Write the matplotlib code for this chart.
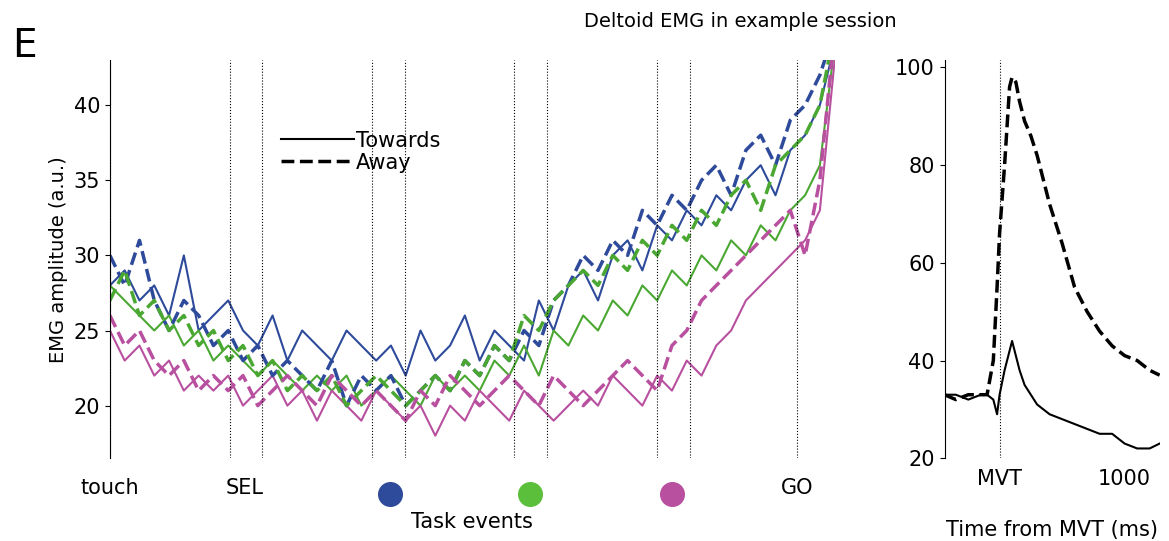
import matplotlib.pyplot as plt
import matplotlib.lines as mlines
import numpy as np

# left panel: task-event timeline (arbitrary units), 50 samples per trace
t_events = np.linspace(0, 725, 50)
blue_towards = [28,29,27,28,26,30,25,26,27,25,24,26,23,25,24,23,25,24,23,24,22,25,23,24,26,23,25,24,23,27,25,28,29,27,30,31,29,32,31,33,32,34,33,35,36,34,37,38,40,44]
blue_away = [30,28,31,27,25,27,26,24,25,23,24,22,23,22,21,23,20,22,21,22,20,21,22,21,23,22,24,23,25,24,27,28,30,29,31,30,33,32,34,33,35,36,34,37,38,36,39,40,42,45]
green_towards = [28,27,26,25,26,24,25,23,24,23,22,23,22,21,22,21,22,20,21,22,21,20,22,21,22,21,23,22,24,22,25,24,26,25,27,26,28,27,29,28,30,29,31,30,32,31,33,34,36,44]
green_away = [27,29,26,27,25,26,24,25,23,24,22,23,21,22,21,22,20,21,22,21,20,21,22,21,23,22,24,23,26,25,27,28,29,28,30,29,31,30,32,31,33,32,34,35,33,36,37,38,40,45]
mag_towards = [25,23,24,22,23,21,22,21,22,20,21,22,20,21,19,21,20,19,21,20,19,20,18,20,19,21,20,19,21,20,19,20,21,20,22,21,20,22,21,23,22,24,25,27,28,29,30,31,33,43]
mag_away = [26,24,25,23,22,23,21,22,21,22,20,21,22,21,20,22,21,20,21,20,19,21,20,22,21,20,21,22,21,20,22,21,20,21,22,23,22,21,24,25,27,28,29,30,31,32,33,30,35,45]
event_lines = [0, 120, 152, 262, 295, 404, 437, 547, 580, 687]
event_ticks = [0, 135, 280, 420, 562, 687]
event_labels = ['touch', 'SEL', '', '', '', 'GO']
dot_colors = ['#2e4a9a', '#5cbf3c', '#b8509f']

# right panel: time from MVT (ms)
t_mvt = [-440,-350,-250,-150,-100,-50,-20,0,40,80,100,130,160,200,250,300,400,500,600,700,800,900,1000,1100,1200,1280]
mvt_towards = [33,33,32,33,33,32,29,33,38,42,44,41,38,35,33,31,29,28,27,26,25,25,23,22,22,23]
mvt_away = [33,32,33,33,33,40,55,66,80,96,98,97,93,89,86,82,72,64,55,50,46,43,41,40,38,37]

c_blue, c_green, c_mag = '#2e4a9a', '#4aa832', '#b8509f'

fig = plt.figure(figsize=(11.69, 5.41), dpi=100)
ax = fig.add_axes([0.094, 0.153, 0.62, 0.736])
ax2 = fig.add_axes([0.808, 0.153, 0.184, 0.736])

for y, c in [(blue_towards, c_blue), (green_towards, c_green), (mag_towards, c_mag)]:
    ax.plot(t_events, y, color=c, lw=1.5)
for y, c in [(blue_away, c_blue), (green_away, c_green), (mag_away, c_mag)]:
    ax.plot(t_events, y, color=c, lw=2.5, ls='--')
for xv in event_lines:
    ax.axvline(xv, color='k', lw=0.8, ls=':')
ax.set_xlim(0, 725)
ax.set_ylim(16.5, 43)
ax.set_yticks([20, 25, 30, 35, 40])
ax.set_xticks(event_ticks)
ax.set_xticklabels(event_labels)
for sp in ['top', 'right', 'bottom']:
    ax.spines[sp].set_visible(False)
ax.tick_params(axis='x', length=0, pad=14, labelsize=15)
ax.tick_params(axis='y', labelsize=15)
ax.set_ylabel('EMG amplitude (a.u.)', fontsize=14)
ax.set_xlabel('Task events', fontsize=15, labelpad=10)
for xv, c in zip(event_ticks[2:5], dot_colors):
    ax.plot(xv, -0.09, 'o', ms=17, color=c, transform=ax.get_xaxis_transform(), clip_on=False)

h1 = mlines.Line2D([], [], color='k', lw=1.5)
h2 = mlines.Line2D([], [], color='k', lw=2.5, ls='--')
ax.legend([h1, h2], ['Towards', 'Away'], loc='upper left', bbox_to_anchor=(0.21, 0.87),
          frameon=False, fontsize=15, handlelength=3.5, handletextpad=0.1, labelspacing=0.1)

ax2.plot(t_mvt, mvt_towards, color='k', lw=1.5)
ax2.plot(t_mvt, mvt_away, color='k', lw=2.5, ls='--')
ax2.axvline(0, color='k', lw=0.8, ls=':')
ax2.set_xlim(-440, 1280)
ax2.set_ylim(20, 101.5)
ax2.set_yticks([20, 40, 60, 80, 100])
ax2.set_xticks([0, 1000])
ax2.set_xticklabels(['MVT', '1000'])
for sp in ['top', 'right', 'bottom']:
    ax2.spines[sp].set_visible(False)
ax2.tick_params(axis='x', length=0, pad=8, labelsize=15)
ax2.tick_params(axis='y', labelsize=15)
ax2.set_xlabel('Time from MVT (ms)', fontsize=15, labelpad=22)

fig.text(0.633, 0.96, 'Deltoid EMG in example session', ha='center', va='center', fontsize=14)
fig.text(0.01, 0.915, 'E', fontsize=28, va='center')
fig.savefig('out.png', dpi=100)
